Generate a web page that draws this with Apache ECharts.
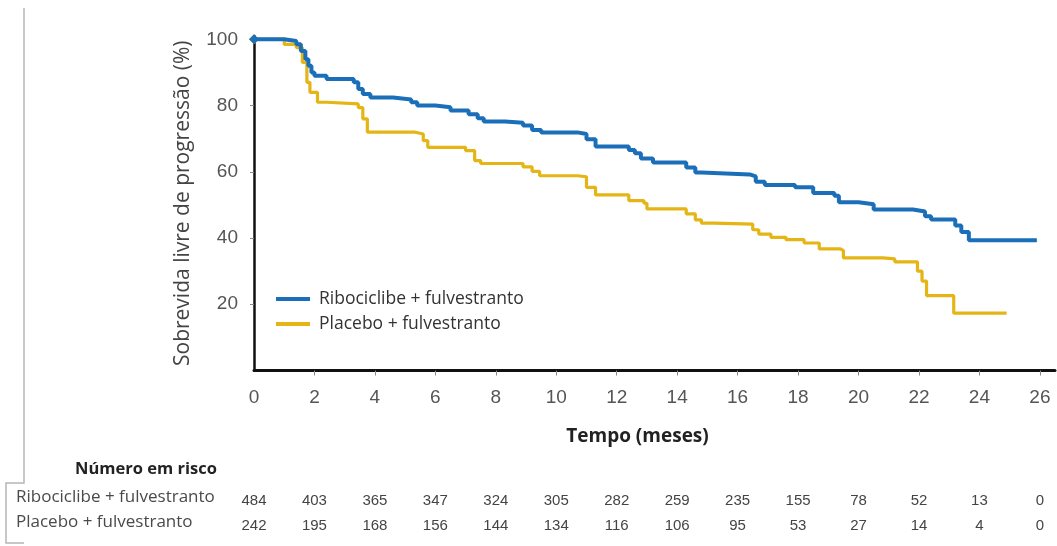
<!DOCTYPE html>
<html>
<head>
<meta charset="utf-8">
<script src="https://cdn.jsdelivr.net/npm/echarts@6/dist/echarts.min.js"></script>
<style>
html,body{margin:0;padding:0;background:#fff;}
#chart{width:1057px;height:546px;}
</style>
</head>
<body>
<div id="chart"></div>
<script>
// ---- data ----
const seriesNames = ['Ribociclibe + fulvestranto', 'Placebo + fulvestranto'];
const riboTime = [0,1.0,1.4,1.55,1.7,1.8,1.9,2.0,2.4,3.3,3.45,3.6,3.85,4.6,5.2,5.4,6.0,6.5,7.1,7.4,7.6,8.3,8.9,9.2,9.5,10.7,11.0,11.3,12.4,12.6,12.8,13.2,14.3,14.6,14.8,16.4,16.6,16.9,17.9,18.5,19.2,19.35,20.0,20.5,21.8,22.2,22.4,23.2,23.4,23.65,25.9];
const riboSurv = [100,99.5,98.5,96.5,94,92,90,89,88,87,85,83.5,82.4,81.8,81,80,79.5,78.5,77.4,76.2,75.2,74.8,74,72.6,71.9,71.4,69.8,67.6,66.6,65.6,64,62.8,61.3,59.8,59.2,58.6,57,56,55.3,53.6,52.8,50.8,50.2,48.6,48.0,46.6,45.6,43.8,41.8,39.3,39.3];
const placTime = [0,1.0,1.4,1.6,1.75,1.85,2.1,2.4,3.45,3.6,3.75,5.3,5.6,5.75,7.0,7.3,7.5,8.9,9.2,9.45,10.7,11.0,11.3,12.4,12.9,13.0,14.3,14.6,14.8,15.2,16.5,16.7,17.1,17.6,18.2,18.7,19.4,19.5,20.8,21.2,21.95,22.1,22.25,23.15,24.9];
const placSurv = [100,98.5,97.5,93,87,84,81,80.5,79.4,76,72,71.4,69.4,67.4,66.4,63.4,62.5,61.5,60.1,58.8,58.5,55.3,53,51.3,50.5,48.8,47.3,45.5,44.5,44.2,42.5,41.2,40.2,39.5,38.5,36.7,36.2,34,33.7,32.8,30,27,22.6,17.3,17.3];
const timeTicks = [0,2,4,6,8,10,12,14,16,18,20,22,24,26];
const yTicks = [20,40,60,80,100];
const riskRibo = [484,403,365,347,324,305,282,259,235,155,78,52,13,0];
const riskPlac = [242,195,168,156,144,134,116,106,95,53,27,14,4,0];
const xTitle = 'Tempo (meses)';
const yTitle = 'Sobrevida livre de progressão (%)';
const riskTitle = 'Número em risco';

// ---- chart ----
const BLUE = '#1b6fb9';
const YELLOW = '#e4b514';
const chart = echarts.init(document.getElementById('chart'), null, {renderer: 'canvas'});

function toPairs(t, v) {
  return t.map((x, i) => i === 0
    ? {value: [x, v[i]], symbol: 'diamond', symbolSize: 10}
    : [x, v[i]]);
}

function riskAxis(values, offset) {
  return {
    type: 'value', gridIndex: 0, position: 'bottom', offset: offset,
    min: 0, max: 26.5,
    axisLine: {show: false}, axisTick: {show: false}, splitLine: {show: false},
    axisLabel: {
      customValues: timeTicks, margin: 0,
      color: '#444', fontFamily: 'Liberation Sans, Arial, sans-serif', fontSize: 15,
      formatter: function (val) { return String(values[Math.round(val / 2)]); }
    }
  };
}

const option = {
  backgroundColor: '#fff',
  animation: false,
  grid: {left: 254, right: 2, top: 36, bottom: 175.5, containLabel: false},
  legend: {
    data: seriesNames, orient: 'vertical', left: 271, top: 285,
    itemWidth: 34, itemHeight: 4, itemGap: 7, icon: 'rect',
    textStyle: {fontFamily: 'Open Sans, sans-serif', fontSize: 17.5, color: '#333', padding: [0, 0, 0, 4]}
  },
  xAxis: [{
    type: 'value', min: 0, max: 26.5,
    name: xTitle, nameLocation: 'middle', nameGap: 57,
    nameTextStyle: {fontFamily: 'Open Sans, sans-serif', fontWeight: 'bold', fontSize: 19, color: '#222', padding: [0, 34, 0, 0]},
    axisLine: {show: true, lineStyle: {color: '#111', width: 3}},
    axisTick: {show: true, customValues: [2,4,6,8,10,12,14,16,18,20,22,24,26], length: 5, lineStyle: {color: '#888', width: 1}},
    axisLabel: {customValues: timeTicks, margin: 18, color: '#555', fontFamily: 'Liberation Sans, Arial, sans-serif', fontSize: 19},
    splitLine: {show: false}
  }, riskAxis(riskRibo, 123), riskAxis(riskPlac, 148)],
  yAxis: {
    type: 'value', min: 0, max: 101,
    name: yTitle, nameLocation: 'middle', nameGap: 60,
    nameTextStyle: {fontFamily: 'Open Sans, sans-serif', fontSize: 21, color: '#444', padding: [0, 0, 0, 0]},
    axisLine: {show: true, lineStyle: {color: '#111', width: 2.5}},
    axisTick: {show: true, customValues: [20,40,60,80], length: 4, lineStyle: {color: '#888', width: 1}},
    axisLabel: {customValues: yTicks, margin: 16, color: '#555', fontFamily: 'Liberation Sans, Arial, sans-serif', fontSize: 19},
    splitLine: {show: false}
  },
  series: [{
    name: seriesNames[0], type: 'line', step: 'end',
    data: toPairs(riboTime, riboSurv),
    symbol: 'none', showSymbol: true, z: 3,
    lineStyle: {color: BLUE, width: 4}, itemStyle: {color: BLUE}
  }, {
    name: seriesNames[1], type: 'line', step: 'end',
    data: toPairs(placTime, placSurv),
    symbol: 'none', showSymbol: true, z: 2,
    lineStyle: {color: YELLOW, width: 3.2}, itemStyle: {color: YELLOW}
  }],
  graphic: [
    {type: 'polyline', shape: {points: [[24, 8], [24, 483], [6, 483], [6, 543], [24, 543]]}, style: {stroke: '#b5b5b5', lineWidth: 1.5, fill: null}},
    {type: 'text', left: 75, top: 461, style: {text: riskTitle, font: 'bold 16.5px "Open Sans", sans-serif', fill: '#222'}},
    {type: 'text', left: 16, top: 489, style: {text: seriesNames[0], font: '17px "Open Sans", sans-serif', fill: '#4a4a4a'}},
    {type: 'text', left: 16, top: 514, style: {text: seriesNames[1], font: '17px "Open Sans", sans-serif', fill: '#4a4a4a'}}
  ]
};
chart.setOption(option);
</script>
</body>
</html>
